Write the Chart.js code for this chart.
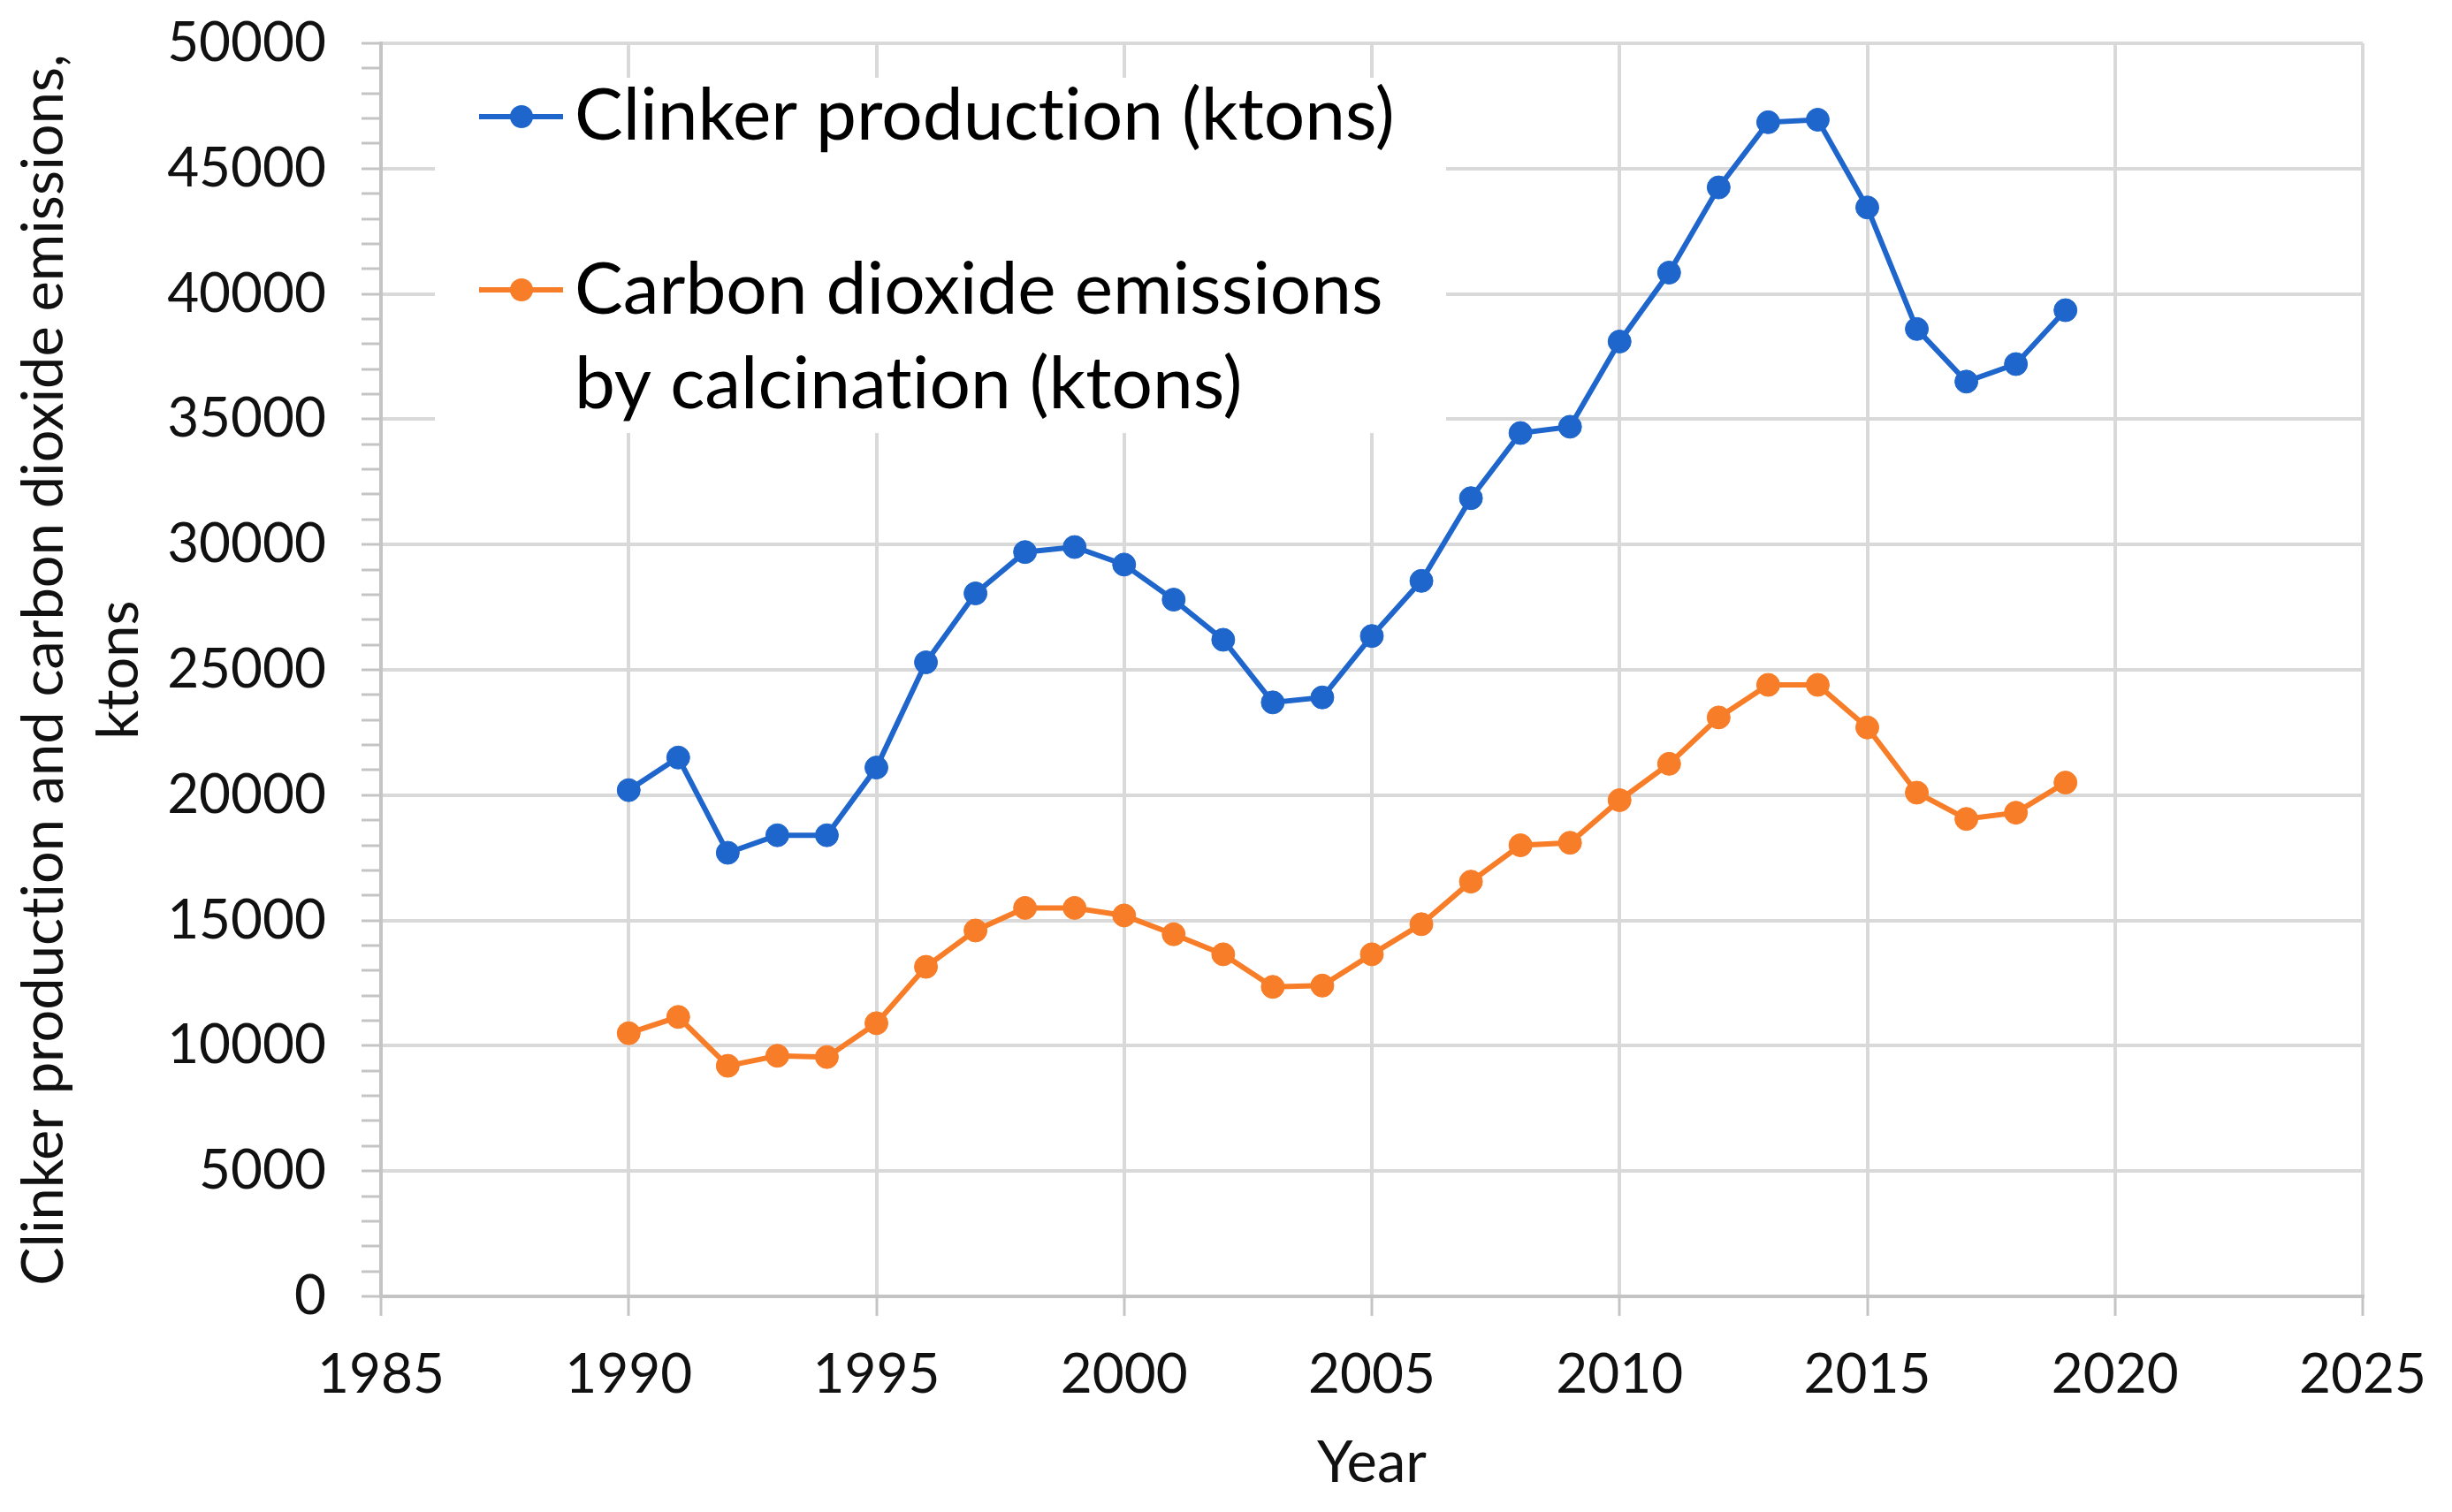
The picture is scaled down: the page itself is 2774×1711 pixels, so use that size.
<!DOCTYPE html>
<html>
<head>
<meta charset="utf-8">
<script src="https://cdn.jsdelivr.net/npm/chart.js@4.4.1/dist/chart.umd.min.js"></script>
<style>
  html, body { margin: 0; padding: 0; background: #fff; }
  #wrap { width: 2774px; height: 1711px; }
</style>
</head>
<body>
<div id="wrap"><canvas id="lineChart" width="2774" height="1711"></canvas></div>
<script>
// data
var years = [1990, 1991, 1992, 1993, 1994, 1995, 1996, 1997, 1998, 1999,
             2000, 2001, 2002, 2003, 2004, 2005, 2006, 2007, 2008, 2009,
             2010, 2011, 2012, 2013, 2014, 2015, 2016, 2017, 2018, 2019];
var clinker = [20200, 21500, 17700, 18400, 18400, 21100, 25300, 28050, 29700, 29900,
               29200, 27800, 26200, 23700, 23900, 26350, 28550, 31850, 34450, 34700,
               38100, 40850, 44250, 46850, 46950, 43450, 38600, 36500, 37200, 39350];
var co2 = [10500, 11150, 9200, 9600, 9550, 10900, 13150, 14600, 15500, 15500,
           15200, 14450, 13650, 12350, 12400, 13650, 14850, 16550, 18000, 18100,
           19800, 21250, 23100, 24400, 24400, 22700, 20100, 19050, 19300, 20500];
var seriesNames = [['Clinker production (ktons)'],
                   ['Carbon dioxide emissions', 'by calcination (ktons)']];
var xTitle = 'Year';
var yTitle = ['Clinker production and carbon dioxide emissions,', 'ktons'];

var blue = '#1f66cc';
var orange = '#f87d28';
var gridGray = '#d9d9d9';
var axisGray = '#c4c4c4';

function points(vals) {
    return years.map(function (yr, i) { return { x: yr, y: vals[i] }; });
}

// no "ti" ligatures, Calibri has none
var noLigatures = {
    id: 'noLigatures',
    beforeDraw: function (chart) {
        chart.ctx.letterSpacing = '0.01px';
    }
};

// legend box drawn inside the plot, over the grid
var insideLegend = {
    id: 'insideLegend',
    beforeDatasetsDraw: function (chart) {
        var c = chart.ctx;
        c.save();
        c.letterSpacing = '0.01px';
        c.fillStyle = '#fff';
        c.fillRect(492, 88, 1144, 402);
        var rows = [
            { sy: 132, base: [158], color: blue },
            { sy: 328, base: [355, 462], color: orange }
        ];
        c.font = '82px Lato';
        c.textBaseline = 'alphabetic';
        rows.forEach(function (r, i) {
            c.strokeStyle = r.color;
            c.lineWidth = 6;
            c.beginPath();
            c.moveTo(542, r.sy);
            c.lineTo(637, r.sy);
            c.stroke();
            c.fillStyle = r.color;
            c.beginPath();
            c.arc(590, r.sy, 13, 0, Math.PI * 2);
            c.fill();
            c.fillStyle = '#000';
            seriesNames[i].forEach(function (line, j) {
                c.fillText(line, 650, r.base[j]);
            });
        });
        c.restore();
    }
};

Chart.defaults.font.family = 'Lato';
Chart.defaults.color = '#111';

var ctx = document.getElementById('lineChart').getContext('2d');
var myChart = new Chart(ctx, {
    type: 'line',
    data: {
        datasets: [{
            label: seriesNames[0].join(' '),
            data: points(clinker),
            borderColor: blue,
            backgroundColor: blue,
            pointBackgroundColor: blue,
            pointBorderColor: blue,
            borderWidth: 6,
            pointRadius: 13,
            pointBorderWidth: 1,
            tension: 0
        }, {
            label: seriesNames[1].join(' '),
            data: points(co2),
            borderColor: orange,
            backgroundColor: orange,
            pointBackgroundColor: orange,
            pointBorderColor: orange,
            borderWidth: 6,
            pointRadius: 13,
            pointBorderWidth: 1,
            tension: 0
        }]
    },
    options: {
        responsive: false,
        animation: false,
        devicePixelRatio: 1,
        layout: { padding: { left: 0, right: 101, top: 49, bottom: 0 } },
        plugins: {
            legend: { display: false },
            tooltip: { enabled: false }
        },
        scales: {
            x: {
                type: 'linear',
                min: 1985,
                max: 2025,
                afterFit: function (s) {
                    s.height = 244;
                    s.paddingLeft = 0;
                    s.paddingRight = 0;
                },
                ticks: {
                    stepSize: 5,
                    padding: 30,
                    font: { size: 62 },
                    callback: function (v) { return String(v); }
                },
                grid: {
                    color: gridGray,
                    lineWidth: 4,
                    tickLength: 22,
                    tickColor: axisGray,
                    tickWidth: 3
                },
                border: { color: axisGray, width: 4 },
                title: {
                    display: true,
                    text: xTitle,
                    font: { size: 65 },
                    padding: { top: 0, bottom: 16 }
                }
            },
            y: {
                min: 0,
                max: 50000,
                afterFit: function (s) {
                    s.width = 431;
                    s.paddingTop = 0;
                    s.paddingBottom = 0;
                },
                ticks: {
                    stepSize: 1000,
                    autoSkip: false,
                    padding: 40,
                    font: { size: 62 },
                    callback: function (v) { return v % 5000 === 0 ? String(v) : ''; }
                },
                grid: {
                    color: function (c) {
                        return c.tick && c.tick.value % 5000 === 0 ? gridGray : 'rgba(0,0,0,0)';
                    },
                    lineWidth: 4,
                    tickLength: 22,
                    tickColor: axisGray,
                    tickWidth: 3
                },
                border: { color: axisGray, width: 4 },
                title: {
                    display: true,
                    text: yTitle,
                    font: { size: 65, lineHeight: 1.3 },
                    padding: { top: 8, bottom: 0 }
                }
            }
        }
    },
    plugins: [noLigatures, insideLegend]
});
</script>
</body>
</html>
